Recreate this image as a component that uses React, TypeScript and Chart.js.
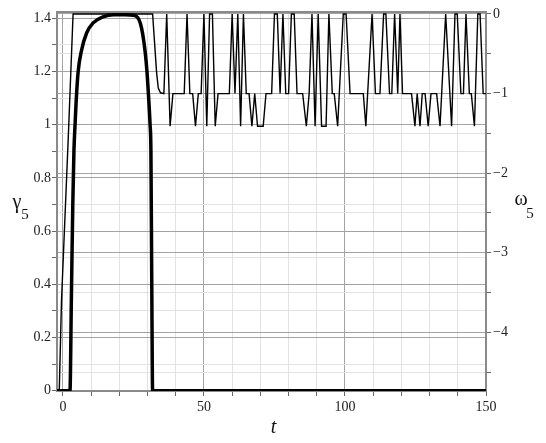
import React, { useEffect, useRef } from "react";
import { Chart, registerables } from "chart.js";

Chart.register(...registerables);

// gamma_5 (left axis), thick curve
const gammaT = [-2.1, 2.5, 3.0, 3.5, 3.9, 4.3, 4.7, 5.4, 6.6, 8.4, 10.7, 14.2, 18, 22, 25, 26.5, 27.5, 28.3, 29.2, 29.8, 30.4, 30.9, 31.2, 31.5, 31.8, 150];
const gammaV = [0, 0, 0.35, 0.7, 0.9, 1.0, 1.09, 1.2, 1.28, 1.345, 1.383, 1.406, 1.414, 1.414, 1.412, 1.403, 1.38, 1.34, 1.27, 1.2, 1.1, 1.0, 0.9, 0.4, 0, 0];

// omega_5 (right axis), thin line
const omegaT = [
  -1.3, -0.5, 1.9, 3.6, 31.8, 33.2, 33.8, 34.6, 35.8, 36.8,
  38, 39, 43, 44, 45, 46, 47, 48, 49, 50,
  51, 52, 53, 54, 55, 59, 60, 61, 62, 63,
  64, 65, 66, 67, 68, 69, 71, 72, 74, 75,
  76, 77, 78, 79, 80, 81, 82, 83, 85, 86.3,
  87.3, 88.3, 89.4, 90.5, 91.7, 93.3, 94.3, 95.5, 96.2, 97.4,
  99.4, 100.4, 101.8, 106.5, 107.4, 109.6, 110.8, 112.4, 113.7, 114.5,
  115.8, 116.6, 117.6, 118.7, 119.5, 120.4, 123.6, 124.8, 125.6, 126.6,
  127.4, 128.4, 129.5, 130.5, 132.5, 133.7, 135.7, 137.8, 139, 139.8,
  141.1, 142, 142.9, 144.1, 144.8, 145.9, 147.1, 147.9, 149, 150,
];
const omegaV = [
  -4.74, -3.6, -1.55, 0, 0, -0.73, -0.93, -0.99, -1, 0,
  -1.41, -1, -1, 0, -1, -1, -1.41, -1, -1, 0,
  -1.41, 0, 0, -1.41, -1, -1, 0, -1, 0, -1.41,
  0, -1, -1, -1.41, -1, -1.41, -1.41, -1, -1, 0,
  0, -1, 0, -1, -1, 0, 0, -1, -1, -1.41,
  -1, 0, -1.41, 0, -1.41, -1.41, 0, -1, -1, -1.41,
  0, 0, -1, -1, -1.41, 0, -1, -1, 0, 0,
  -1, -1, 0, -1, 0, -1, -1, -1.41, -1, -1.41,
  -1, -1, -1.41, -1, -1, -1.41, 0, -1.41, 0, 0,
  -1, -1, 0, -1, -1, -1.41, 0, 0, -1, -1,
];

const xTicks = [0, 10, 20, 30, 40, 50, 60, 70, 80, 90, 100, 110, 120, 130, 140, 150];
const xLabeled = [0, 50, 100, 150];
const leftTicks = [0, 0.1, 0.2, 0.3, 0.4, 0.5, 0.6, 0.7, 0.8, 0.9, 1, 1.1, 1.2, 1.3, 1.4];
const leftLabeled = [0, 0.2, 0.4, 0.6, 0.8, 1, 1.2, 1.4];
const rightTicks = [-4.5, -4, -3.5, -3, -2.5, -2, -1.5, -1, -0.5, 0];
const rightLabeled = [-4, -3, -2, -1, 0];

const MAJOR = "#a3a3a3";
const MINOR = "#e2e2e2";
const AXIS = "#8a8a8a";
const FONT = "'Liberation Serif', 'Times New Roman', serif";

const has = (arr: number[], v: number) => arr.some((a) => Math.abs(a - v) < 1e-6);

const fmt = (v: number) => {
  const r = Math.round(v * 10) / 10;
  const s = String(Math.abs(r));
  return r < 0 ? "\u2212" + s : s;
};

const decorPlugin = {
  id: "decor",
  beforeDatasetsDraw(chart: any) {
    const { ctx, chartArea } = chart;
    ctx.save();
    ctx.strokeStyle = AXIS;
    ctx.lineWidth = 2;
    ctx.beginPath();
    ctx.moveTo(chartArea.left - 1, chartArea.top);
    ctx.lineTo(chartArea.right + 1, chartArea.top);
    ctx.stroke();
    ctx.restore();
  },
  afterDraw(chart: any) {
    const { ctx, chartArea } = chart;
    ctx.save();
    ctx.fillStyle = "#111";
    ctx.textAlign = "center";
    ctx.textBaseline = "alphabetic";
    // left title gamma_5
    ctx.font = `20px ${FONT}`;
    ctx.fillText("\u03b3", 17, 208);
    ctx.font = `15px ${FONT}`;
    ctx.fillText("5", 25, 219);
    // right title omega_5
    ctx.font = `20px ${FONT}`;
    ctx.fillText("\u03c9", 521, 205);
    ctx.font = `15px ${FONT}`;
    ctx.fillText("5", 530, 218);
    // bottom title t
    ctx.font = `italic 20px ${FONT}`;
    ctx.fillText("t", (chartArea.left + chartArea.right) / 2 + 2, 433);
    ctx.restore();
  },
};

export default function App() {
  const ref = useRef<HTMLCanvasElement | null>(null);

  useEffect(() => {
    if (!ref.current) return;
    const gammaData = gammaT.map((t, i) => ({ x: t, y: gammaV[i] }));
    const omegaData = omegaT.map((t, i) => ({ x: t, y: omegaV[i] }));

    const chart = new Chart(ref.current, {
      type: "line",
      data: {
        datasets: [
          {
            label: "omega5",
            data: omegaData,
            yAxisID: "yR",
            borderColor: "#000",
            borderWidth: 1.4,
            pointRadius: 0,
            tension: 0,
            fill: false,
          },
          {
            label: "gamma5",
            data: gammaData,
            yAxisID: "yL",
            borderColor: "#000",
            borderWidth: 3.5,
            pointRadius: 0,
            cubicInterpolationMode: "monotone",
            fill: false,
          },
        ],
      },
      options: {
        animation: false,
        responsive: false,
        devicePixelRatio: 1,
        layout: { padding: { top: 12, left: 0, right: 0, bottom: 0 } },
        plugins: { legend: { display: false }, tooltip: { enabled: false }, title: { display: false } },
        scales: {
          x: {
            type: "linear",
            position: "bottom",
            min: -2.1,
            max: 150,
            afterBuildTicks: (s: any) => {
              s.ticks = xTicks.map((v) => ({ value: v }));
            },
            afterFit: (s: any) => {
              s.height = 52;
            },
            ticks: {
              autoSkip: false,
              maxRotation: 0,
              padding: 3,
              color: "#222",
              font: { family: FONT, size: 14 },
              callback: (v: any) => (has(xLabeled, Number(v)) ? fmt(Number(v)) : ""),
            },
            grid: {
              color: (c: any) => (c.tick && has(xLabeled, c.tick.value) ? MAJOR : MINOR),
              lineWidth: 1,
              tickLength: 5,
              tickColor: "#666",
            },
            border: { display: true, color: AXIS, width: 2 },
          },
          yL: {
            type: "linear",
            position: "left",
            min: -0.001,
            max: 1.424,
            afterBuildTicks: (s: any) => {
              s.ticks = leftTicks.map((v) => ({ value: v }));
            },
            afterFit: (s: any) => {
              s.width = 57;
            },
            ticks: {
              autoSkip: false,
              padding: 1,
              color: "#222",
              font: { family: FONT, size: 14 },
              callback: (v: any) => (has(leftLabeled, Number(v)) ? fmt(Number(v)) : ""),
            },
            grid: {
              color: (c: any) => (c.tick && has(leftLabeled, c.tick.value) ? MAJOR : MINOR),
              lineWidth: 1,
              tickLength: 5,
              tickColor: "#666",
            },
            border: { display: true, color: AXIS, width: 2 },
          },
          yR: {
            type: "linear",
            position: "right",
            min: -4.737,
            max: 0.025,
            afterBuildTicks: (s: any) => {
              s.ticks = rightTicks.map((v) => ({ value: v }));
            },
            afterFit: (s: any) => {
              s.width = 60;
            },
            ticks: {
              autoSkip: false,
              padding: 2,
              color: "#222",
              font: { family: FONT, size: 14 },
              callback: (v: any) => (has(rightLabeled, Number(v)) ? fmt(Number(v)) : ""),
            },
            grid: {
              color: (c: any) => (c.tick && has(rightLabeled, c.tick.value) ? MAJOR : MINOR),
              lineWidth: 1,
              tickLength: 5,
              tickColor: "#666",
            },
            border: { display: true, color: AXIS, width: 2 },
          },
        },
      },
      plugins: [decorPlugin],
    });

    return () => chart.destroy();
  }, []);

  return (
    <div style={{ position: "absolute", left: 0, top: 0, width: 546, height: 443, background: "#fff" }}>
      <canvas ref={ref} width={546} height={443} style={{ display: "block" }} />
    </div>
  );
}
